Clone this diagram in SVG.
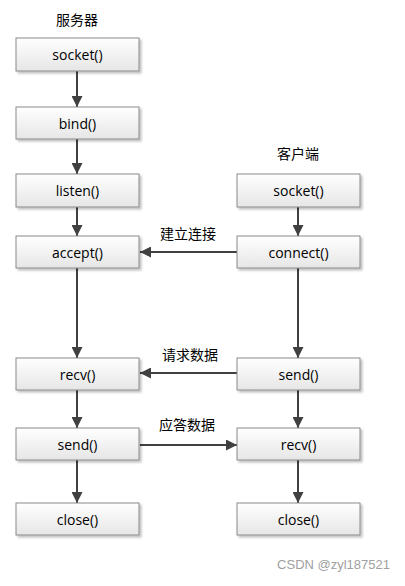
<svg xmlns="http://www.w3.org/2000/svg" width="405" height="586" viewBox="0 0 405 586">
<defs>
<linearGradient id="g" x1="0" y1="0" x2="0" y2="1">
<stop offset="0" stop-color="#ffffff"/>
<stop offset="1" stop-color="#e6e6e6"/>
</linearGradient>
<marker id="a" viewBox="0 0 10 10" refX="10" refY="5" markerWidth="5.5" markerHeight="5.5" markerUnits="strokeWidth" orient="auto">
<path d="M0,0 L10,5 L0,10 z" fill="#404040"/>
</marker>
<filter id="s" x="-10%" y="-20%" width="130%" height="160%">
<feDropShadow dx="2" dy="2" stdDeviation="1" flood-color="#000" flood-opacity="0.25"/>
</filter>
</defs>
<style>
.box{fill:url(#g);stroke:#8a8a8a;stroke-width:1;filter:url(#s)}
.t{font-family:"Open Sans","Liberation Sans",sans-serif;font-size:14px;fill:#000;text-anchor:middle;dominant-baseline:central}
.c{font-family:"Noto Sans CJK SC",sans-serif;font-size:14px;fill:#000;text-anchor:middle;dominant-baseline:central}
.l{stroke:#404040;stroke-width:2;fill:none;marker-end:url(#a)}
</style>
<rect width="405" height="586" fill="#fff"/>
<text class="c" x="77" y="19">服务器</text>
<text class="c" x="298" y="153">客户端</text>
<g id="connectors">
<line class="l" x1="77" y1="71" x2="77" y2="107"/>
<line class="l" x1="77" y1="139" x2="77" y2="174"/>
<line class="l" x1="77" y1="207" x2="77" y2="236"/>
<line class="l" x1="77" y1="268" x2="77" y2="358"/>
<line class="l" x1="77" y1="390" x2="77" y2="428"/>
<line class="l" x1="77" y1="460" x2="77" y2="503"/>
<line class="l" x1="298" y1="207" x2="298" y2="236"/>
<line class="l" x1="298" y1="268" x2="298" y2="358"/>
<line class="l" x1="298" y1="390" x2="298" y2="428"/>
<line class="l" x1="298" y1="460" x2="298" y2="503"/>
<line class="l" x1="237" y1="252" x2="140" y2="252"/>
<line class="l" x1="237" y1="373" x2="140" y2="373"/>
<line class="l" x1="140" y1="445" x2="237" y2="445"/>
<text class="c" x="188" y="233">建立连接</text>
<text class="c" x="190" y="354">请求数据</text>
<text class="c" x="187" y="424">应答数据</text>
</g>
<g id="s_socket"><rect class="box" x="16" y="38" width="123" height="33"/><text class="t" x="77.5" y="54.5">socket()</text></g>
<g id="s_bind"><rect class="box" x="16" y="107" width="123" height="32"/><text class="t" x="77.5" y="123">bind()</text></g>
<g id="s_listen"><rect class="box" x="16" y="174" width="123" height="33"/><text class="t" x="77.5" y="190.5">listen()</text></g>
<g id="s_accept"><rect class="box" x="16" y="236" width="123" height="32"/><text class="t" x="77.5" y="252">accept()</text></g>
<g id="s_recv"><rect class="box" x="16" y="358" width="123" height="32"/><text class="t" x="77.5" y="374">recv()</text></g>
<g id="s_send"><rect class="box" x="16" y="428" width="123" height="32"/><text class="t" x="77.5" y="444">send()</text></g>
<g id="s_close"><rect class="box" x="16" y="503" width="123" height="32"/><text class="t" x="77.5" y="519">close()</text></g>
<g id="c_socket"><rect class="box" x="237" y="174" width="123" height="33"/><text class="t" x="298.5" y="190.5">socket()</text></g>
<g id="c_connect"><rect class="box" x="237" y="236" width="123" height="32"/><text class="t" x="298.5" y="252">connect()</text></g>
<g id="c_send"><rect class="box" x="237" y="358" width="123" height="32"/><text class="t" x="298.5" y="374">send()</text></g>
<g id="c_recv"><rect class="box" x="237" y="428" width="123" height="32"/><text class="t" x="298.5" y="444">recv()</text></g>
<g id="c_close"><rect class="box" x="237" y="503" width="123" height="32"/><text class="t" x="298.5" y="519">close()</text></g>
<text x="390" y="569" font-family="'Liberation Sans',sans-serif" font-size="13" fill="#a0a0a0" text-anchor="end">CSDN @zyl187521</text>
</svg>
